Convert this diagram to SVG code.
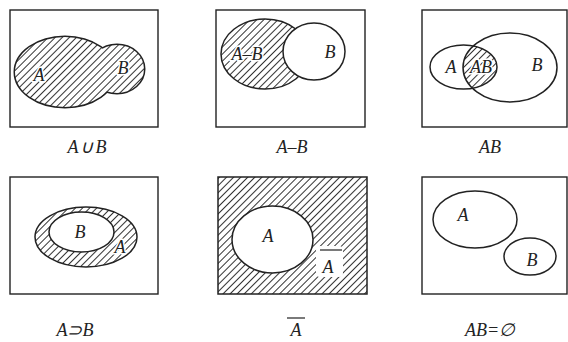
<svg xmlns="http://www.w3.org/2000/svg" width="568" height="342" viewBox="0 0 568 342">
<style>
.frame{fill:none;stroke:#222;stroke-width:1.4}
.ol{fill:none;stroke:#222;stroke-width:1.5}
.wh{fill:#fff;stroke:#222;stroke-width:1.5}
.h{fill:url(#hatch);stroke:#222;stroke-width:1.5}
.t{font-family:"Liberation Serif","Times New Roman",serif;font-style:italic;font-size:18px;fill:#222;text-anchor:middle}
.halo{paint-order:stroke;stroke:#fff;stroke-width:3;stroke-linejoin:round}
.bar{stroke:#222;stroke-width:1.2}
</style>
<defs>
<pattern id="hatch" patternUnits="userSpaceOnUse" width="5" height="10" patternTransform="rotate(45)">
<rect width="5" height="10" fill="#fff"/>
<line x1="0.5" y1="0" x2="0.5" y2="10" stroke="#333" stroke-width="1"/>
</pattern>
<clipPath id="clipA3"><ellipse cx="463.5" cy="67" rx="33.5" ry="22"/></clipPath>
</defs>

<g id="union">
<rect class="frame" x="10" y="10" width="148" height="117"/>
<ellipse cx="65" cy="72" rx="50" ry="35" fill="none" stroke="#222" stroke-width="3"/>
<ellipse cx="117" cy="69" rx="27" ry="24" fill="none" stroke="#222" stroke-width="3"/>
<ellipse cx="65" cy="72" rx="50" ry="35" fill="url(#hatch)"/>
<ellipse cx="117" cy="69" rx="27" ry="24" fill="url(#hatch)"/>
<text class="t halo" x="39" y="81">A</text>
<text class="t halo" x="123" y="74">B</text>
<text class="t" x="88" y="153" letter-spacing="2">A∪B</text>
</g>

<g id="difference">
<rect class="frame" x="216" y="10" width="149" height="117"/>
<ellipse class="h" cx="265" cy="54" rx="44" ry="35"/>
<ellipse class="wh" cx="314" cy="51.5" rx="31" ry="28.5"/>
<text class="t halo" x="247" y="60">A–B</text>
<text class="t" x="330" y="58">B</text>
<text class="t" x="292" y="153">A–B</text>
</g>

<g id="intersection">
<rect class="frame" x="422" y="10" width="145" height="117"/>
<ellipse cx="510" cy="67.5" rx="47" ry="34.5" fill="url(#hatch)" clip-path="url(#clipA3)"/>
<ellipse class="ol" cx="463.5" cy="67" rx="33.5" ry="22"/>
<ellipse class="ol" cx="510" cy="67.5" rx="47" ry="34.5"/>
<text class="t" x="451" y="73">A</text>
<text class="t halo" x="481" y="73">AB</text>
<text class="t" x="537" y="71">B</text>
<text class="t" x="490" y="153">AB</text>
</g>

<g id="superset">
<rect class="frame" x="10" y="177" width="148" height="117"/>
<ellipse class="h" cx="86" cy="237" rx="51" ry="30"/>
<ellipse class="wh" cx="81.5" cy="232" rx="32.5" ry="20"/>
<text class="t" x="80" y="238">B</text>
<text class="t halo" x="120" y="253">A</text>
<text class="t" x="75" y="336">A⊃B</text>
</g>

<g id="complement">
<rect x="218" y="177" width="149" height="117" fill="url(#hatch)" stroke="#222" stroke-width="1.5"/>
<ellipse class="wh" cx="272.5" cy="239.5" rx="40.5" ry="33.5"/>
<rect x="316" y="246" width="27" height="31" rx="4" fill="#fff"/>
<line class="bar" x1="320" y1="250" x2="342" y2="250"/>
<text class="t" x="328" y="273">A</text>
<text class="t" x="268" y="242">A</text>
<line class="bar" x1="287" y1="318" x2="305" y2="318"/>
<text class="t" x="296" y="336">A</text>
</g>

<g id="disjoint">
<rect class="frame" x="422" y="177" width="145" height="117"/>
<ellipse class="ol" cx="475" cy="219.5" rx="42" ry="28.5"/>
<ellipse class="ol" cx="530" cy="256.5" rx="26" ry="18.5"/>
<text class="t" x="463" y="221">A</text>
<text class="t" x="532" y="266">B</text>
<text class="t" x="490" y="336">AB=∅</text>
</g>
</svg>
